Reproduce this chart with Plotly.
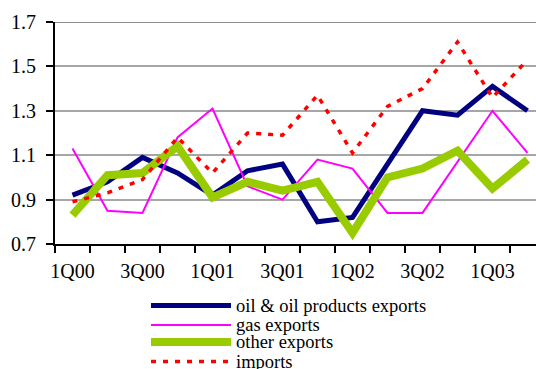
import plotly.graph_objects as go

# Quarterly indices, 1Q00 .. 2Q03
quarters = ["1Q00", "2Q00", "3Q00", "4Q00", "1Q01", "2Q01", "3Q01", "4Q01",
            "1Q02", "2Q02", "3Q02", "4Q02", "1Q03", "2Q03"]
oil_exports = [0.92, 0.98, 1.09, 1.02, 0.92, 1.03, 1.06, 0.80, 0.82, 1.06, 1.30, 1.28, 1.41, 1.30]
gas_exports = [1.13, 0.85, 0.84, 1.18, 1.31, 0.96, 0.90, 1.08, 1.04, 0.84, 0.84, 1.07, 1.30, 1.11]
other_exports = [0.83, 1.01, 1.02, 1.14, 0.91, 0.98, 0.94, 0.98, 0.75, 1.00, 1.04, 1.12, 0.95, 1.08]
imports = [0.89, 0.93, 0.99, 1.18, 1.02, 1.20, 1.19, 1.37, 1.11, 1.32, 1.40, 1.61, 1.36, 1.53]

y_ticks = [0.7, 0.9, 1.1, 1.3, 1.5, 1.7]

series = [
    ("oil & oil products exports", oil_exports, dict(color="#000080", width=5)),
    ("gas exports", gas_exports, dict(color="#FF00FF", width=2)),
    ("other exports", other_exports, dict(color="#99CC00", width=8)),
    ("imports", imports, dict(color="#FF0000", width=3.5, dash="5px,7px")),
]

xpos = list(range(len(quarters)))
FONT = "Liberation Serif"

fig = go.Figure()
for name, vals, line in series:
    fig.add_trace(go.Scatter(x=xpos, y=vals, mode="lines", name=name,
                             line=line, showlegend=False))

W, H = 536, 369
L, T, B = 55, 22, 125
plot_w = W - L
plot_h = H - T - B

fig.update_layout(
    width=W, height=H,
    margin=dict(l=L, r=0, t=T, b=B),
    paper_bgcolor="white", plot_bgcolor="white",
    font=dict(family=FONT, color="black", size=20),
)

# category axis: labels every other quarter, ticks on the boundaries
fig.update_xaxes(
    range=[-0.5, -0.5 + plot_w / 35.0],
    tickvals=xpos[::2], ticktext=quarters[::2],
    ticks="", showgrid=False, zeroline=False,
    showline=True, linecolor="black", linewidth=2,
    tickfont=dict(family=FONT, size=20), ticklabelstandoff=8,
    minor=dict(tickvals=[i - 0.5 for i in range(len(quarters) + 1)],
               ticks="outside", ticklen=7, tickwidth=2, tickcolor="black",
               showgrid=False),
)
fig.update_yaxes(
    range=[0.7, 1.7], tickvals=y_ticks, ticktext=[f"{v:.1f}" for v in y_ticks],
    ticks="outside", ticklen=7, tickwidth=2, tickcolor="black",
    showgrid=True, gridcolor="#a6a6a6", gridwidth=1.5, zeroline=False,
    showline=True, linecolor="black", linewidth=2,
    tickfont=dict(family=FONT, size=20), ticklabelstandoff=6,
)
# darker top border line at the axis maximum
fig.add_shape(type="line", xref="paper", yref="y", x0=0, x1=1, y0=1.7, y1=1.7,
              line=dict(color="#8c8c8c", width=2))

# legend drawn below the plot
def px_to_paper(px, py):
    return (px - L) / plot_w, (T + plot_h - py) / plot_h

legend_rows = [305.5, 325, 342, 361.5]
for (name, _, line), py in zip(series, legend_rows):
    x0, y0 = px_to_paper(151, py)
    x1, _ = px_to_paper(231, py)
    fig.add_shape(type="line", xref="paper", yref="paper", x0=x0, x1=x1, y0=y0, y1=y0,
                  line=line)
    tx, _ = px_to_paper(234, py)
    fig.add_annotation(xref="paper", yref="paper", x=tx, y=y0, text=name,
                       showarrow=False, xanchor="left", yanchor="middle",
                       font=dict(family=FONT, size=18.5, color="black"))

fig.write_html("out.html")
